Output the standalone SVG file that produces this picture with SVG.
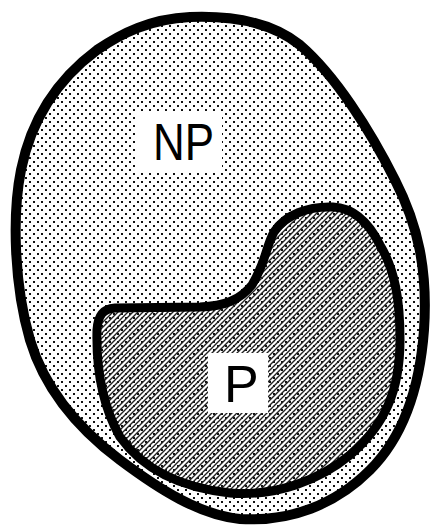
<svg xmlns="http://www.w3.org/2000/svg" width="432" height="529" viewBox="0 0 432 529">
<defs>
<pattern id="dots" width="8" height="8" patternUnits="userSpaceOnUse">
<rect x="1" y="1" width="2" height="2" fill="#111"/>
<rect x="5" y="5" width="2" height="2" fill="#111"/>
</pattern>
<pattern id="hatch" width="5" height="5" patternUnits="userSpaceOnUse">
<path d="M-1,6 L6,-1 M-1,1 L1,-1 M4,6 L6,4" stroke="#222" stroke-width="1.4"/>
</pattern>
</defs>
<style>
.outline{stroke:#000;stroke-linejoin:round;}
.lbl{font-family:"Liberation Sans",Arial,sans-serif;fill:#000;}
</style>
<rect width="432" height="529" fill="#fff"/>
<g id="np">
<path class="outline" fill="url(#dots)" stroke-width="10" d="M190,17 C150,19 122,33 97,50 C62,76 32,115 21,170 C12,215 14,285 30,340 C45,390 80,430 120,460 C160,490 200,515 240,519 C290,522 335,505 370,470 C405,435 420,385 424,330 C428,270 418,225 395,180 C370,130 335,75 300,45 C275,25 240,15 190,17 Z"/>
<rect x="136" y="113" width="86" height="60" fill="#fff"/>
<text class="lbl" x="153" y="160" font-size="51" textLength="61" lengthAdjust="spacingAndGlyphs">NP</text>
</g>
<g id="p">
<path class="outline" fill="url(#hatch)" stroke-width="9" d="M333,207 C308,206 285,215 274,232 C266,246 266,262 252,285 C240,300 225,306 200,307 L115,308 C103,309 98,315 97,330 C96,370 102,405 120,437 C140,465 175,487 230,493 C275,497 320,480 350,455 C385,425 400,390 400,340 C400,300 395,270 380,245 C370,225 355,208 333,207 Z"/>
<rect x="208" y="353" width="60" height="60" fill="#fff"/>
<text class="lbl" x="224" y="402" font-size="52">P</text>
</g>
<g id="connectors"/>
</svg>
